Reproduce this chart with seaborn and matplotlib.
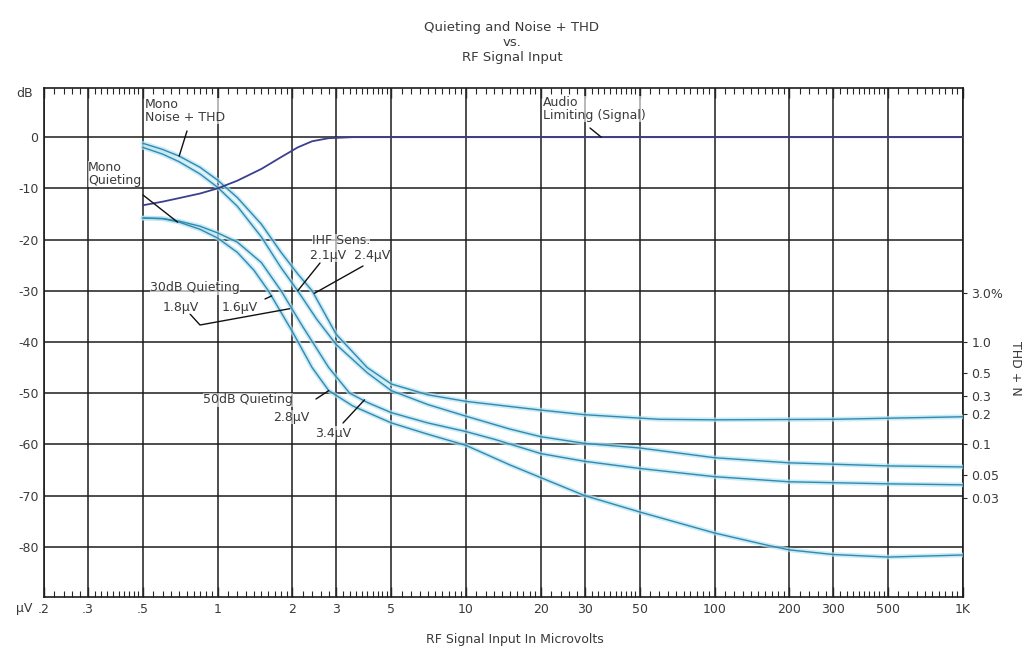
import matplotlib
matplotlib.use("Agg")
import matplotlib.pyplot as plt
import numpy as np
import pandas as pd
import seaborn as sns
from matplotlib.ticker import FixedLocator, NullFormatter

# ── Data ───────────────────────────────────────────────────────────────────
x_ticks = [0.2, 0.3, 0.5, 1, 2, 3, 5, 10, 20, 30, 50, 100, 200, 300, 500, 1000]
x_tick_labels = [".2", ".3", ".5", "1", "2", "3", "5", "10", "20", "30", "50",
                 "100", "200", "300", "500", "1K"]
db_ticks = [0, -10, -20, -30, -40, -50, -60, -70, -80]
thd_pct = [3.0, 1.0, 0.5, 0.3, 0.2, 0.1, 0.05, 0.03]
thd_labels = ["3.0%", "1.0", "0.5", "0.3", "0.2", "0.1", "0.05", "0.03"]

limit_uv = [0.5, 0.6, 0.7, 0.85, 1, 1.2, 1.5, 1.8, 2.1, 2.4, 2.8, 3.5, 5, 1000]
limit_db = [-13.3, -12.6, -11.9, -11.0, -10.0, -8.5, -6.2, -3.9, -2.0, -0.8,
            -0.2, 0, 0, 0]

nthd_a_uv = [0.5, 0.6, 0.7, 0.85, 1, 1.2, 1.5, 1.8, 2.1, 2.5, 3, 4, 5, 7, 10,
             15, 20, 30, 50, 100, 200, 500, 1000]
nthd_a_db = [-2.0, -3.3, -4.8, -7.2, -9.8, -13.5, -19.5, -25.5, -30, -35.5,
             -40.5, -46, -49.5, -52.2, -54.5, -57, -58.5, -59.8, -60.7, -62.6,
             -63.6, -64.2, -64.4]

nthd_b_uv = [0.5, 0.6, 0.7, 0.85, 1, 1.2, 1.5, 1.8, 2.1, 2.4, 3, 4, 5, 7, 10,
             20, 30, 60, 100, 300, 1000]
nthd_b_db = [-1.2, -2.4, -3.7, -5.9, -8.4, -11.8, -17, -22.5, -26.7, -30,
             -38.5, -45, -48.2, -50.3, -51.6, -53.3, -54.2, -55.1, -55.2,
             -55.1, -54.6]

quiet_a_uv = [0.5, 0.6, 0.7, 0.85, 1, 1.2, 1.4, 1.6, 2, 2.4, 2.8, 3.5, 5, 7,
              10, 15, 20, 30, 50, 100, 160, 200, 300, 500, 1000]
quiet_a_db = [-15.8, -15.9, -16.6, -18.0, -19.7, -22.5, -26, -30, -38, -45,
              -49.5, -52.5, -55.8, -58, -60.2, -64, -66.5, -70, -73.2, -77.3,
              -79.6, -80.6, -81.5, -82, -81.6]

quiet_b_uv = [0.5, 0.6, 0.7, 0.85, 1, 1.2, 1.5, 1.8, 2.2, 2.8, 3.4, 4, 5, 7,
              10, 13, 20, 30, 50, 100, 200, 500, 1000]
quiet_b_db = [-15.8, -15.9, -16.4, -17.4, -18.7, -20.5, -24.5, -30, -37, -45,
              -50, -51.8, -53.8, -55.8, -57.5, -59, -61.8, -63.3, -64.7,
              -66.3, -67.3, -67.7, -67.9]

# ── Style ──────────────────────────────────────────────────────────────────
sns.set_style("white")
plt.rcParams["font.family"] = ["DejaVu Sans"]
TXT = "#3a3a3a"
GRID = "#1c1c1c"
CYAN = "#3289b0"
HALO = "#b3e3f2"
NAVY = "#3b3f8c"
FS = 9

frames = []
for name, xs, ys in [("nthd_a", nthd_a_uv, nthd_a_db), ("nthd_b", nthd_b_uv, nthd_b_db),
                     ("quiet_a", quiet_a_uv, quiet_a_db), ("quiet_b", quiet_b_uv, quiet_b_db)]:
    frames.append(pd.DataFrame({"uv": xs, "db": ys, "curve": name}))
cyan_df = pd.concat(frames, ignore_index=True)
limit_df = pd.DataFrame({"uv": limit_uv, "db": limit_db})

fig = plt.figure(figsize=(10.34, 6.51), dpi=100)
ax = fig.add_axes([44 / 1034, 1 - 597 / 651, 919 / 1034, 509 / 651])
ax.set_xscale("log")

cyan_pal = {k: CYAN for k in cyan_df["curve"].unique()}
halo_pal = {k: HALO for k in cyan_df["curve"].unique()}
sns.lineplot(data=cyan_df, x="uv", y="db", hue="curve", palette=halo_pal,
             estimator=None, legend=False, lw=3.4, alpha=0.7, ax=ax, zorder=3)
sns.lineplot(data=cyan_df, x="uv", y="db", hue="curve", palette=cyan_pal,
             estimator=None, legend=False, lw=1.0, ax=ax, zorder=4)
sns.lineplot(data=limit_df, x="uv", y="db", color=NAVY, estimator=None,
             lw=1.3, ax=ax, zorder=4)

ax.set_xlim(0.2, 1000)
ax.set_ylim(-89.8, 9.6)
ax.set_xticks(x_ticks)
ax.set_xticklabels(x_tick_labels)
ax.set_yticks(db_ticks)
ax.set_yticklabels([str(v) for v in db_ticks])

minor = []
for dec in [0.1, 1, 10, 100]:
    for s in list(np.arange(1, 2, 0.1)) + list(np.arange(2, 5, 0.2)) + list(np.arange(5, 10, 0.5)):
        v = dec * s
        if 0.2 < v < 1000:
            minor.append(v)
ax.xaxis.set_minor_locator(FixedLocator(minor))
ax.xaxis.set_minor_formatter(NullFormatter())

ax.grid(True, which="major", color=GRID, lw=1.1)
ax.tick_params(axis="x", which="major", direction="in", length=7, width=1,
               top=True, bottom=True, labelsize=FS, labelcolor=TXT, pad=4)
ax.tick_params(axis="x", which="minor", direction="in", length=4.5, width=0.8,
               top=True, bottom=True)
ax.tick_params(axis="y", which="major", length=0, labelsize=FS, labelcolor=TXT, pad=4)
for sp in ax.spines.values():
    sp.set_color(GRID)
    sp.set_linewidth(1.2)
ax.set_xlabel("")
ax.set_ylabel("")

# right THD + N scale
ax2 = ax.twinx()
ax2.set_ylim(ax.get_ylim())
ax2.set_yticks([20 * np.log10(p / 100) for p in thd_pct])
ax2.set_yticklabels(thd_labels)
ax2.tick_params(axis="y", direction="out", length=3, width=0.8, labelsize=FS,
                labelcolor=TXT, pad=3)
for sp in ax2.spines.values():
    sp.set_visible(False)

# unit labels
ax.text(-0.012, 0.99, "dB", transform=ax.transAxes, ha="right", va="center",
        fontsize=FS, color=TXT)
ax.text(-0.013, -0.022, "µV", transform=ax.transAxes, ha="right", va="center",
        fontsize=FS, color=TXT)
fig.text(1015 / 1034, 1 - 368 / 651, "THD + N", rotation=270, ha="center",
         va="center", fontsize=FS, color=TXT)

fig.text(0.495, 1 - 42 / 651, "Quieting and Noise + THD\nvs.\nRF Signal Input",
         ha="center", va="center", fontsize=9.5, color=TXT, linespacing=1.2)
fig.text(0.498, 1 - 640 / 651, "RF Signal Input In Microvolts", ha="center",
         va="center", fontsize=FS, color=TXT)


def frac(px, py):
    return ((px - 44) / 919, (597 - py) / 509)


def note(text, pos, ha="left", ls=1.05):
    ax.text(*frac(*pos), text, transform=ax.transAxes, ha=ha, va="center",
            fontsize=FS, color=TXT, linespacing=ls, zorder=6,
            bbox=dict(fc="white", ec="none", pad=0.1, alpha=0.6))


def pointer(start, end_data, mid=None):
    pts = [ax.transAxes.transform(frac(*start))]
    if mid is not None:
        pts.append(ax.transAxes.transform(frac(*mid)))
    pts.append(ax.transData.transform(end_data))
    pts = ax.transData.inverted().transform(np.array(pts))
    ax.plot(pts[:, 0], pts[:, 1], color="#111111", lw=1.0, zorder=5)


note("Mono\nNoise + THD", (145, 111))
pointer((187, 131), (0.70, -3.7))
note("Mono\nQuieting", (88, 174))
pointer((143, 195), (0.69, -16.6))
note("Audio\nLimiting (Signal)", (543, 109))
pointer((590, 128), (35, 0))
note("IHF Sens.", (312, 241))
note("2.1µV  2.4µV", (310, 255))
pointer((320, 263), (2.1, -30))
pointer((363, 266), (2.45, -30.5))
note("30dB Quieting", (150, 288))
note("1.8µV", (163, 307))
note("1.6µV", (222, 307))
pointer((190, 314), (1.95, -33.5), mid=(200, 325))
pointer((265, 299), (1.65, -31))
note("50dB Quieting", (203, 400))
note("2.8µV", (273, 417))
pointer((316, 399), (2.8, -49.5))
note("3.4µV", (315, 433))
pointer((343, 423), (3.9, -51.3))

fig.savefig("out.png", dpi=100)
